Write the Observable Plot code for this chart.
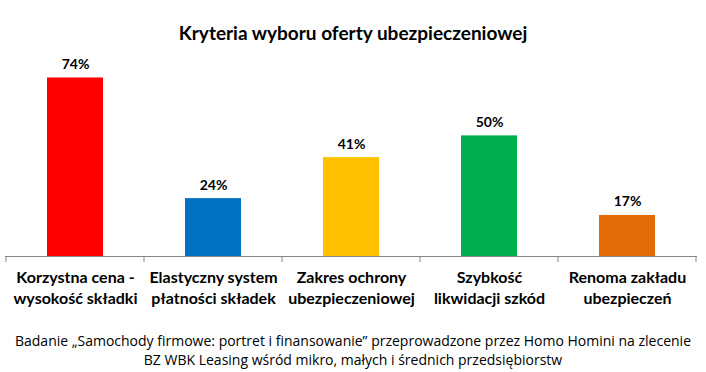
<!DOCTYPE html>
<html><head><meta charset="utf-8">
<script src="https://cdn.jsdelivr.net/npm/d3@7"></script>
<script src="https://cdn.jsdelivr.net/npm/@observablehq/plot@0.6"></script>
<style>
html,body{margin:0;padding:0;background:#fff;}
#wrap{position:relative;width:706px;height:372px;overflow:hidden;font-family:Lato,"Open Sans",sans-serif;}
#title{position:absolute;left:0;top:0;width:706px;height:50px;text-align:center;font-weight:bold;font-size:19px;line-height:19px;}
#title span{position:absolute;left:0;right:0;top:23px;}
#chart{position:absolute;left:0;top:50px;}
#caption{position:absolute;left:0;top:331px;width:706px;text-align:center;font-family:"Open Sans",sans-serif;font-size:14px;line-height:19px;color:#000;}
</style></head>
<body>
<div id="wrap">
  <div id="title"><span>Kryteria wyboru oferty ubezpieczeniowej</span></div>
  <div id="chart"></div>
  <div id="caption">Badanie „Samochody firmowe: portret i finansowanie” przeprowadzone przez Homo Homini na zlecenie<br>BZ WBK Leasing wśród mikro, małych i średnich przedsiębiorstw</div>
</div>
<script>
const categories = [
  "Korzystna cena -\nwysokość składki",
  "Elastyczny system\npłatności składek",
  "Zakres ochrony\nubezpieczeniowej",
  "Szybkość\nlikwidacji szkód",
  "Renoma zakładu\nubezpieczeń"
];
const values = [74, 24, 41, 50, 17];
const colors = ["#FF0000", "#0070C0", "#FFC000", "#00B050", "#E36C09"];

const data = categories.map((c, i) => ({cat: c, value: values[i], color: colors[i]}));

const plot = Plot.plot({
  width: 706,
  height: 280,
  marginLeft: 5,
  marginRight: 9,
  marginTop: 13,
  marginBottom: 74,
  style: {fontFamily: "Lato, 'Open Sans', sans-serif", background: "#fff"},
  x: {domain: categories, paddingInner: 0.595, paddingOuter: 0.3, axis: null},
  y: {domain: [0, 80], axis: null},
  marks: [
    Plot.barY(data, {x: "cat", y: "value", fill: "color"}),
    Plot.ruleY([0], {stroke: "#868686", strokeWidth: 1}),
    Plot.text(data, {x: "cat", y: "value", text: d => d.value + "%", lineAnchor: "bottom", dy: -9, fontSize: 14, fontWeight: "bold", fill: "#000"}),
    Plot.text(data, {x: "cat", y: () => 0, text: "cat", lineAnchor: "top", dy: 12, fontSize: 16, fontWeight: "bold", lineHeight: 1.3, fill: "#000"})
  ]
});
document.getElementById("chart").appendChild(plot);

// separator ticks at band boundaries, derived from the x scale
const sx = plot.scale("x");
const sy = plot.scale("y");
const gap = sx.step - sx.bandwidth;
const bounds = categories.map(c => sx.apply(c) - gap / 2);
bounds.push(sx.apply(categories[categories.length - 1]) + sx.bandwidth + gap / 2);
const y0 = sy.apply(0);
d3.select(plot).append("g")
  .selectAll("line").data(bounds).join("line")
  .attr("x1", d => d).attr("x2", d => d)
  .attr("y1", y0).attr("y2", y0 + 6)
  .attr("stroke", "#868686").attr("stroke-width", 1);
</script>
</body></html>
